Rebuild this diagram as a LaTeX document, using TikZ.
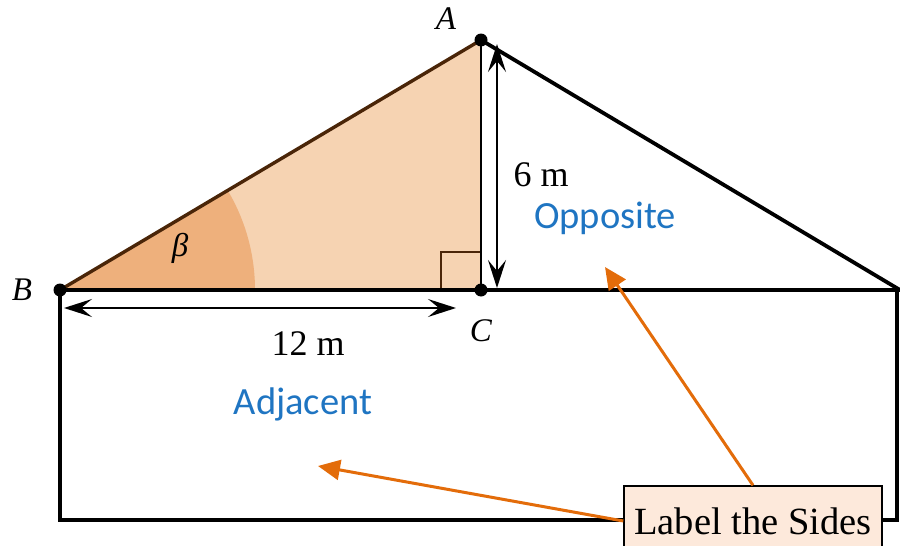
\documentclass[tikz,border=0pt]{standalone}
\usepackage{fontspec}
\setmainfont{Liberation Serif}
\newfontfamily\sidefont{Carlito}
\usetikzlibrary{arrows.meta,positioning}
\definecolor{peach}{HTML}{F6D3B2}
\definecolor{darkpeach}{HTML}{EEB07C}
\definecolor{hypbrown}{HTML}{4A2508}
\definecolor{sideblue}{HTML}{1F75C2}
\definecolor{callorange}{HTML}{E36C0A}
\definecolor{callfill}{HTML}{FDE9DB}

\begin{document}
\begin{tikzpicture}[x=1pt, y=-1pt, >=Stealth,
  dot/.style={circle, fill, inner sep=0pt, minimum size=13pt},
  side/.style={line width=3.8pt, line cap=round},
  dim/.style={{Stealth[length=28pt,width=18pt,inset=11pt]}-{Stealth[length=28pt,width=18pt,inset=11pt]}, line width=1.8pt},
  vertex/.style={font=\fontsize{33}{36}\selectfont\itshape},
  measure/.style={font=\fontsize{36}{40}\selectfont},
  sidename/.style={font=\sidefont\fontsize{38.5}{42}\selectfont, text=sideblue},
  callout/.style={-{Triangle[length=22pt,width=20pt]}, callorange, line width=3pt}]
  \useasboundingbox (0,0) rectangle (900,546);
  \clip (0,0) rectangle (900,546);
  % points of the figure
  \coordinate (B) at (60,290);
  \coordinate (A) at (481,40);
  \coordinate (C) at (481,290);
  \coordinate (R) at (900,290);
  \coordinate (RB) at (897,290);
  \coordinate (BL) at (60,520);
  \coordinate (BR) at (897,520);
  % shaded triangle and angle
  \fill[peach] (B) -- (A) -- (C) -- cycle;
  \begin{scope}
    \clip (B) -- (A) -- (C) -- cycle;
    \fill[darkpeach] (B) circle (195);
  \end{scope}
  \draw[hypbrown, line width=1.4pt] (441,290) |- (481,252);
  % sides
  \draw[side] (RB) -- (BR) -- (BL) -- (B) -- (R) -- (A);
  \draw[hypbrown, line width=3.4pt] (B) -- (A);
  \draw[line width=2pt] (A) -- (C);
  \node[dot] (dotA) at (A) {};
  \node[dot] (dotB) at (B) {};
  \node[dot] (dotC) at (C) {};
  % labels
  \node[vertex] (labA) at (446,19) {A};
  \node[vertex] (labB) at (22,290) {B};
  \node[vertex] (labC) at (481,331) {C};
  \node[vertex] (beta) at (180,248) {β};
  % measurements
  \coordinate (upTop) at (497,44);
  \coordinate (upBot) at (497,288);
  \coordinate (acLeft) at (64,308);
  \coordinate (acRight) at (456,308);
  \draw[dim] (upTop) -- (upBot);
  \draw[dim] (acLeft) -- (acRight);
  \node[measure] (six) at (541,175) {6 m};
  \node[measure] (twelve) at (308,344) {12 m};
  \node[sidename] (opp) at (605,218) {Opposite};
  \node[sidename] (adj) at (303,404) {Adjacent};
  % callout
  \node[draw, line width=1.4pt, fill=callfill, minimum width=258pt, minimum height=70pt,
    font=\fontsize{38.5}{42}\selectfont] (note) at (753,521) {Label the Sides};
  \coordinate (oppTip) at (605,267);
  \coordinate (adjTip) at (318,466);
  \draw[callout] (note.north) -- (oppTip);
  \draw[callout] (note.west) -- (adjTip);
\end{tikzpicture}
\end{document}
